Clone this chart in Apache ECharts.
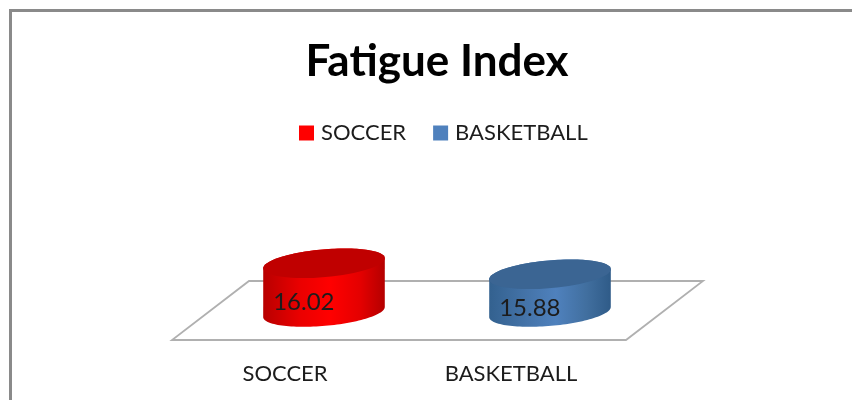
<!DOCTYPE html>
<html>
<head>
<meta charset="utf-8">
<style>
  html, body { margin: 0; padding: 0; background: #fff; }
  #chart { width: 852px; height: 400px; }
</style>
<script src="https://cdn.jsdelivr.net/npm/echarts@6/dist/echarts.min.js"></script>
</head>
<body>
<div id="chart"></div>
<script>
const chartTitle = 'Fatigue Index';
const categories = ['SOCCER', 'BASKETBALL'];
const soccerValues = [16.02];
const basketballValues = [15.88];
const axisMin = 15.4;
const axisMax = 16.4;
const fontFamily = 'Lato, "Open Sans", sans-serif';

// Flattened 3D look: a leaning floor and discs seen from above.
const tilt = -5 * Math.PI / 180;
const discAspect = 14 / 61.5;
const floorDepthUp = 31;
const floorDepthDown = 28;
const floorSlant = 39;

function ellipseArc(cx, cy, a, b, from, to) {
  const pts = [];
  const steps = 64;
  for (let i = 0; i <= steps; i++) {
    const t = from + (to - from) * i / steps;
    const x = a * Math.cos(t);
    const y = b * Math.sin(t);
    pts.push([
      cx + x * Math.cos(tilt) - y * Math.sin(tilt),
      cy + x * Math.sin(tilt) + y * Math.cos(tilt)
    ]);
  }
  return pts;
}

function discRenderer(sideStops, topColor) {
  return function (params, api) {
    const index = api.value(0);
    const value = api.value(1);
    const base = api.coord([index, axisMin]);
    const top = api.coord([index, value]);
    const a = api.size([1, 0])[0] * 0.27;
    const b = a * discAspect;
    const side = ellipseArc(base[0], base[1], a, b, 0, Math.PI)
      .concat(ellipseArc(top[0], top[1], a, b, Math.PI, 2 * Math.PI));
    const cap = ellipseArc(top[0], top[1], a, b, 0, 2 * Math.PI);
    return {
      type: 'group',
      children: [
        {
          type: 'polygon',
          shape: { points: side },
          style: {
            fill: new echarts.graphic.LinearGradient(0, 0, 1, 0, sideStops)
          }
        },
        {
          type: 'polygon',
          shape: { points: cap },
          style: { fill: topColor }
        },
        {
          type: 'text',
          style: {
            text: value.toFixed(2),
            x: base[0] - a * 0.33,
            y: (base[1] + top[1]) / 2 + 15,
            align: 'center',
            verticalAlign: 'middle',
            fontFamily: fontFamily,
            fontSize: 24,
            fill: '#1c1c1c'
          }
        }
      ]
    };
  };
}

function floorRenderer(params, api) {
  const c = params.coordSys;
  const mid = c.y + c.height;
  const cx = c.x;
  const w = c.width;
  return {
    type: 'polygon',
    shape: {
      points: [
        [cx - floorSlant, mid + floorDepthDown],
        [cx + w - floorSlant + 2, mid + floorDepthDown],
        [cx + w + floorSlant + 1, mid - floorDepthUp],
        [cx + floorSlant - 1, mid - floorDepthUp]
      ]
    },
    style: { fill: 'rgba(0,0,0,0)', stroke: '#b0b0b0', lineWidth: 1.8 },
    silent: true
  };
}

const option = {
  animation: false,
  backgroundColor: '#ffffff',
  title: {
    text: chartTitle,
    left: 432,
    top: 35,
    textAlign: 'center',
    textStyle: { fontFamily: fontFamily, fontSize: 44, fontWeight: 'bold', color: '#000000' }
  },
  legend: {
    data: categories,
    left: 294,
    top: 117,
    icon: 'rect',
    itemWidth: 15,
    itemHeight: 15,
    itemGap: 27,
    textStyle: { fontFamily: fontFamily, fontSize: 22, color: '#1c1c1c', padding: [0, 0, 0, 2] }
  },
  grid: { left: 211, width: 452, top: 233.4, height: 78.6 },
  xAxis: {
    type: 'category',
    data: categories,
    axisLine: { show: false },
    axisTick: { show: false },
    splitLine: { show: false },
    axisLabel: {
      interval: 0,
      margin: 51,
      padding: [0, 78, 0, 0],
      fontFamily: fontFamily,
      fontSize: 22,
      color: '#1c1c1c'
    }
  },
  yAxis: {
    type: 'value',
    min: axisMin,
    max: axisMax,
    interval: 0.2,
    show: false
  },
  graphic: [
    { type: 'rect', shape: { x: 9, y: 9, width: 843, height: 3 }, style: { fill: '#8a8a8a' }, silent: true },
    { type: 'rect', shape: { x: 9, y: 9, width: 3, height: 391 }, style: { fill: '#8a8a8a' }, silent: true }
  ],
  series: [
    {
      type: 'custom',
      name: 'floor',
      z: 1,
      silent: true,
      renderItem: floorRenderer,
      data: [[0]]
    },
    {
      type: 'custom',
      name: categories[0],
      z: 2,
      itemStyle: { color: '#ff0000' },
      encode: { x: 0, y: 1 },
      renderItem: discRenderer([
        { offset: 0, color: '#b80000' },
        { offset: 0.3, color: '#ea0000' },
        { offset: 0.55, color: '#ff0000' },
        { offset: 0.8, color: '#e40000' },
        { offset: 1, color: '#b40000' }
      ], '#c00000'),
      data: soccerValues.map(v => [0, v])
    },
    {
      type: 'custom',
      name: categories[1],
      z: 2,
      itemStyle: { color: '#4f81bd' },
      encode: { x: 0, y: 1 },
      renderItem: discRenderer([
        { offset: 0, color: '#33618f' },
        { offset: 0.3, color: '#4473a8' },
        { offset: 0.55, color: '#4f81bd' },
        { offset: 0.8, color: '#416f9f' },
        { offset: 1, color: '#2f5b88' }
      ], '#3b6593'),
      data: basketballValues.map(v => [1, v])
    }
  ]
};

const chart = echarts.init(document.getElementById('chart'), null, { renderer: 'canvas' });
chart.setOption(option);
</script>
</body>
</html>
